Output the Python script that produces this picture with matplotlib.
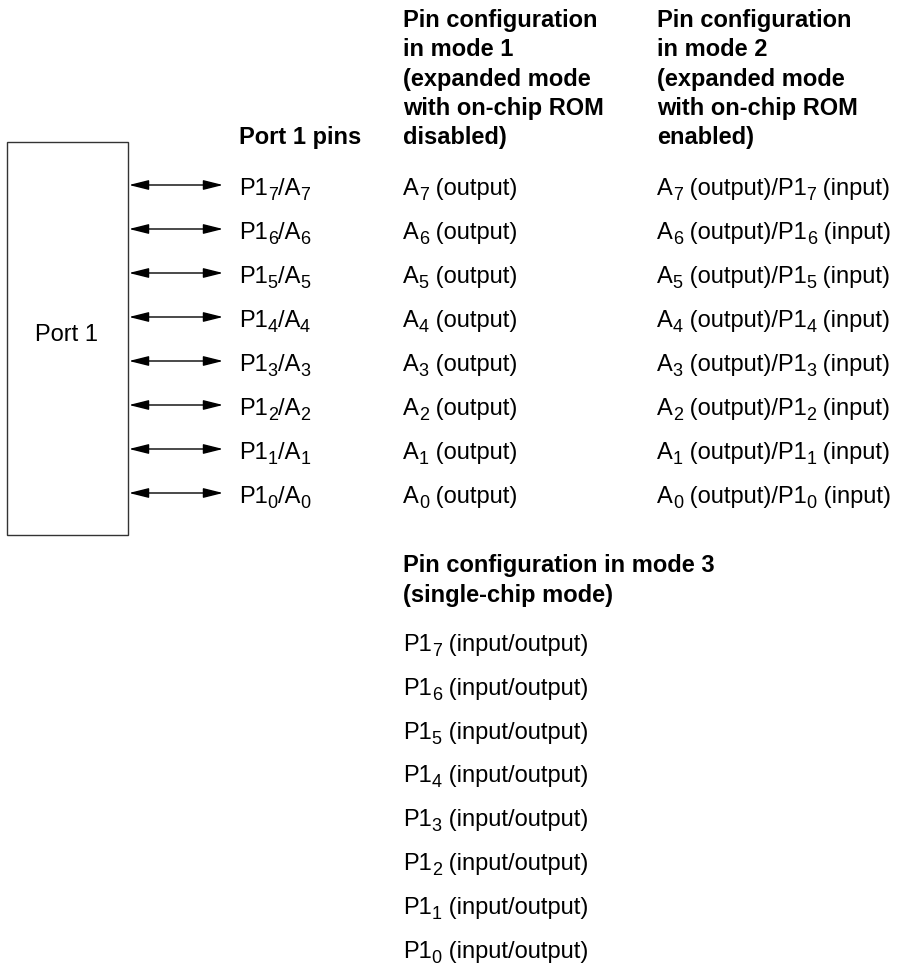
import matplotlib
matplotlib.use("Agg")
import matplotlib.pyplot as plt
from matplotlib.patches import Rectangle

plt.rcParams["font.family"] = ["Liberation Sans", "DejaVu Sans"]

# "_d" marks a one-character subscript
bits = ["7", "6", "5", "4", "3", "2", "1", "0"]
hdr_pins = "Port 1 pins"
hdr_mode1 = ["Pin configuration", "in mode 1", "(expanded mode", "with on-chip ROM", "disabled)"]
hdr_mode2 = ["Pin configuration", "in mode 2", "(expanded mode", "with on-chip ROM", "enabled)"]
hdr_mode3 = ["Pin configuration in mode 3", "(single-chip mode)"]
box_label = "Port 1"
pin_labels = [f"P1_{b}/A_{b}" for b in bits]
mode1_labels = [f"A_{b} (output)" for b in bits]
mode2_labels = [f"A_{b} (output)/P1_{b} (input)" for b in bits]
mode3_labels = [f"P1_{b} (input/output)" for b in bits]

W, H = 900, 966
fig = plt.figure(figsize=(W / 100, H / 100), dpi=100)
ax = fig.add_axes([0, 0, 1, 1])
ax.set_xlim(0, W); ax.set_ylim(H, 0)
ax.axis("off")
rend = fig.canvas.get_renderer()

FS = 17
SUB_FS, SUB_DROP = 13, 5


def split(s):
    segs, buf, i = [], "", 0
    while i < len(s):
        if s[i] == "_" and i + 1 < len(s):
            if buf: segs.append((buf, False)); buf = ""
            segs.append((s[i + 1], True)); i += 2
        else:
            buf += s[i]; i += 1
    if buf: segs.append((buf, False))
    return segs


def rich(x, y, s, **kw):
    # draw s with subscripts, left aligned at baseline y (pixel units)
    for part, is_sub in split(s):
        t = ax.text(x, y + (SUB_DROP if is_sub else 0), part,
                    fontsize=SUB_FS if is_sub else FS, va="baseline", ha="left", **kw)
        x += t.get_window_extent(rend).width


# port block
ax.add_patch(Rectangle((7, 142), 121, 393, fill=False, lw=1.0, ec="#333333"))
ax.text(66.5, 341, box_label, fontsize=FS, ha="center", va="baseline")

x_pin, x_m1, x_m2 = 239, 403, 657
row0, dy = 195, 44

# headers
ax.text(x_pin, 144, hdr_pins, fontsize=FS, fontweight="bold", va="baseline")
for i, (a, b) in enumerate(zip(hdr_mode1, hdr_mode2)):
    y = 27 + i * 29.3
    ax.text(x_m1, y, a, fontsize=FS, fontweight="bold", va="baseline")
    ax.text(x_m2, y, b, fontsize=FS, fontweight="bold", va="baseline")

for i, (p, m1, m2) in enumerate(zip(pin_labels, mode1_labels, mode2_labels)):
    y = row0 + i * dy
    ax.annotate("", xy=(223, y - 10), xytext=(129, y - 10),
                arrowprops=dict(arrowstyle="<|-|>,head_length=1.2,head_width=0.3",
                                lw=1.0, color="black", shrinkA=0, shrinkB=0,
                                mutation_scale=10))
    rich(x_pin, y, p)
    rich(x_m1, y, m1)
    rich(x_m2, y, m2)

# mode 3 block
for i, t in enumerate(hdr_mode3):
    ax.text(x_m1, 572 + i * 30, t, fontsize=FS, fontweight="bold", va="baseline")
for i, t in enumerate(mode3_labels):
    rich(x_m1, 651 + i * 43.8, t)

fig.savefig("out.png", dpi=100, facecolor="white")
